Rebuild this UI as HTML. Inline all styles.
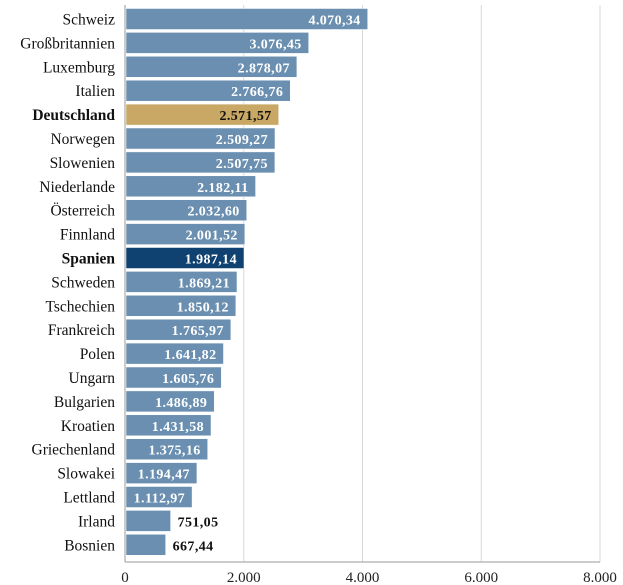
<!DOCTYPE html>
<html><head><meta charset="utf-8"><style>
body{margin:0;background:#fff;}
svg{display:block;font-family:"Liberation Serif",serif;}
</style></head><body>
<svg id="c" width="623" height="585"></svg>
<script>
const countries=["Schweiz","Großbritannien","Luxemburg","Italien","Deutschland","Norwegen","Slowenien","Niederlande","Österreich","Finnland","Spanien","Schweden","Tschechien","Frankreich","Polen","Ungarn","Bulgarien","Kroatien","Griechenland","Slowakei","Lettland","Irland","Bosnien"];
const values=[4070.34,3076.45,2878.07,2766.76,2571.57,2509.27,2507.75,2182.11,2032.60,2001.52,1987.14,1869.21,1850.12,1765.97,1641.82,1605.76,1486.89,1431.58,1375.16,1194.47,1112.97,751.05,667.44];
const ticks=[0,2000,4000,6000,8000];
const tickLabels=["0","2.000","4.000","6.000","8.000"];
const svg=document.getElementById('c');const NS="http://www.w3.org/2000/svg";
const x0=125,x1=600,max=8000,topY=8.5,step=23.9,bh=21,axisY=562;
const xs=v=>x0+v/max*(x1-x0);
function mk(t,a,p){const e=document.createElementNS(NS,t);for(const k in a)e.setAttribute(k,a[k]);(p||svg).appendChild(e);return e;}
const fmt=v=>{let s=v.toFixed(2).split('.');return s[0].replace(/\B(?=(\d{3})+(?!\d))/g,'.')+','+s[1];};
ticks.forEach((t,i)=>{
 if(i>0){const g=mk('line',{x1:xs(t),x2:xs(t),y1:5,y2:axisY,stroke:'#d8d8d8','stroke-width':1});
 
 }
 const l=mk('text',{x:xs(t),y:582,'text-anchor':'middle','font-size':15,fill:'#222'});l.textContent=tickLabels[i];
 
 
});
const ax=mk('line',{x1:x0,x2:x1,y1:axisY,y2:axisY,stroke:'#999','stroke-width':1});


const ay=mk('line',{x1:x0,x2:x0,y1:5,y2:axisY,stroke:'#999','stroke-width':1});


countries.forEach((c,i)=>{
 const y=topY+i*step;const w=xs(values[i])-x0;
 const hl=c==="Deutschland"?'#c8a864':c==="Spanien"?'#0f4271':'#6a8fb0';
 const b=mk('rect',{x:x0+1,y:y,width:w,height:bh,fill:hl,stroke:'#fff','stroke-width':0.5});
 
 
 const bold=(c==="Deutschland"||c==="Spanien");
 const lb=mk('text',{x:115,y:y+16,'text-anchor':'end','font-size':15.5,fill:'#111','font-weight':bold?'bold':'normal'});lb.textContent=c;
 
 
 const inside=values[i]>1000;
 const vt=mk('text',{x:inside?x0+w-6:x0+w+8,y:y+16,'text-anchor':inside?'end':'start','font-size':14,'font-weight':'bold','letter-spacing':'0.4',fill:inside&&c!=="Deutschland"?'#fff':'#111'});
 vt.textContent=fmt(values[i]);
 
 
});
</script>
</body></html>
